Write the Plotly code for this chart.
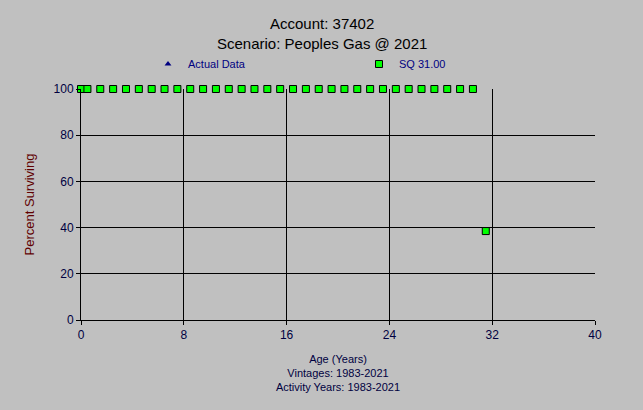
import plotly.graph_objects as go

# Data
sq_age = [0, 0.5] + [i + 0.5 for i in range(1, 31)] + [31.5]
sq_pct = [100.0] * 32 + [38.5]
actual_age = [0, 0.5] + [i + 0.5 for i in range(1, 31)]
actual_pct = [100.0] * 32

x_ticks = [0, 8, 16, 24, 32, 40]
y_ticks = [0, 20, 40, 60, 80, 100]

title_lines = ["Account: 37402", "Scenario: Peoples Gas @ 2021"]
x_title = "Age (Years)<br>Vintages: 1983-2021<br>Activity Years: 1983-2021"

BG = "#C0C0C0"
FONT = "Liberation Sans, Arial, sans-serif"
W, H = 643, 410

fig = go.Figure()
fig.add_trace(go.Scatter(
    x=actual_age, y=actual_pct, mode="markers", name="Actual Data",
    marker=dict(symbol="triangle-up", size=6, color="#000080"),
    cliponaxis=False,
))
fig.add_trace(go.Scatter(
    x=sq_age, y=sq_pct, mode="markers", name="SQ 31.00",
    marker=dict(symbol="square", size=7, color="#00FF00",
                line=dict(color="black", width=1)),
    cliponaxis=False,
))

annotations = []
for i, (t, ypx) in enumerate(zip(title_lines, [24, 43])):
    annotations.append(dict(
        text=t, xref="paper", yref="paper", x=(321.5 - 81) / 514,
        y=1 + (89 - ypx) / 231, xanchor="center", yanchor="middle",
        showarrow=False, font=dict(size=15, color="black", family=FONT),
    ))

fig.update_layout(
    width=W, height=H,
    paper_bgcolor=BG, plot_bgcolor=BG,
    margin=dict(l=81, r=48, t=89, b=90, autoexpand=False),
    font=dict(family=FONT, size=12, color="#000040"),
    annotations=annotations,
    showlegend=True,
    legend=dict(
        orientation="h", xref="container", yref="container",
        x=148 / W, xanchor="left", y=1 - 64 / H, yanchor="middle",
        bgcolor="rgba(0,0,0,0)", font=dict(size=11, color="#000080", family=FONT),
        entrywidth=166, entrywidthmode="pixels", itemwidth=30,
        borderwidth=0,
    ),
    xaxis=dict(
        range=[0, 40], tickvals=x_ticks, ticktext=[str(v) for v in x_ticks],
        showgrid=True, gridcolor="black", gridwidth=1,
        showline=True, linecolor="black", linewidth=1,
        ticks="outside", ticklen=4, tickcolor="black",
        zeroline=False, automargin=False,
        tickfont=dict(size=12, color="#000040"),
        title=dict(text=x_title, font=dict(size=11, color="#000040", family=FONT), standoff=13),
    ),
    yaxis=dict(
        range=[0, 100], tickvals=y_ticks, ticktext=[str(v) for v in y_ticks],
        showgrid=True, gridcolor="black", gridwidth=1,
        showline=True, linecolor="black", linewidth=1,
        ticks="outside", ticklen=4, tickcolor="black",
        zeroline=False, automargin=False,
        tickfont=dict(size=12, color="#000040"),
        title=dict(text="Percent Surviving", font=dict(size=13, color="#600000"), standoff=16),
    ),
)

fig.write_html("out.html", config={"displayModeBar": False},
               post_script="document.body.style.margin='0';")
